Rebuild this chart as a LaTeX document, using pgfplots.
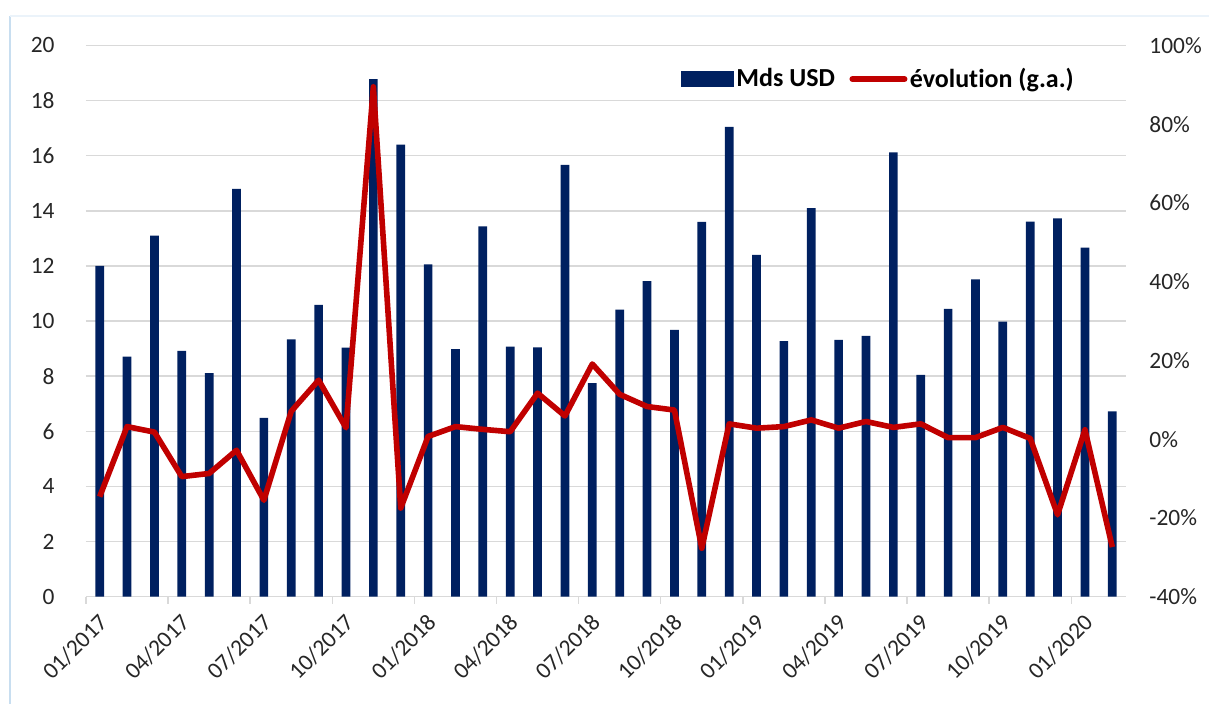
\documentclass[border=0pt]{standalone}
\usepackage{fontspec}
\setmainfont{Carlito}[Ligatures={NoCommon}]
\usepackage{pgfplots}
\pgfplotsset{compat=1.18}
\definecolor{navy}{HTML}{002060}
\definecolor{redl}{HTML}{C00000}
\definecolor{gridgray}{HTML}{D9D9D9}
\definecolor{frameblue}{RGB}{200,222,240}
\definecolor{frametop}{RGB}{235,243,250}
\begin{document}
\begin{tikzpicture}
\useasboundingbox (0,0) rectangle (604.5pt,352pt);
\draw[frameblue, line width=1pt] (5pt,0) -- (5pt,344pt);
\draw[frametop, line width=1pt] (5pt,344pt) -- (604.5pt,344pt);
\begin{axis}[
  at={(43pt,53.65pt)}, anchor=south west, scale only axis,
  width=520pt, height=275.6pt,
  xmin=0, xmax=38, ymin=0, ymax=20,
  ytick={0,2,...,20},
  xtick={0,3,...,36},
  xticklabels={01/2017,04/2017,07/2017,10/2017,01/2018,04/2018,07/2018,10/2018,01/2019,04/2019,07/2019,10/2019,01/2020},
  axis x line*=bottom, axis y line*=left,
  y axis line style={draw=none},
  x axis line style={draw=gridgray, line width=0.75pt},
  ymajorgrids, grid style={draw=gridgray, line width=0.75pt},
  ytick style={draw=none},
  xtick style={draw=gridgray, line width=0.75pt},
  tick align=outside, major tick length=3.5pt,
  /pgf/number format/assume math mode=true,
  tick label style={font=\fontsize{11.7}{14}\selectfont, text=black!85},
  yticklabel style={anchor=east, inner sep=0pt, xshift=-12pt},
  xticklabel style={rotate=45, anchor=east, inner sep=0pt, xshift=1pt, yshift=-11.5pt},
  ybar, bar width=4.35pt, bar shift=0pt,
]
\addplot[fill=navy, draw=none] coordinates {
(0.5,12.0) (1.5,8.71) (2.5,13.1) (3.5,8.92) (4.5,8.11) (5.5,14.8) (6.5,6.49) (7.5,9.34)
(8.5,10.59) (9.5,9.04) (10.5,18.78) (11.5,16.4) (12.5,12.06) (13.5,8.98) (14.5,13.44)
(15.5,9.07) (16.5,9.05) (17.5,15.67) (18.5,7.75) (19.5,10.42) (20.5,11.45) (21.5,9.68)
(22.5,13.6) (23.5,17.05) (24.5,12.4) (25.5,9.27) (26.5,14.1) (27.5,9.32) (28.5,9.46)
(29.5,16.12) (30.5,8.05) (31.5,10.44) (32.5,11.51) (33.5,9.98) (34.5,13.61) (35.5,13.73)
(36.5,12.67) (37.5,6.72)
};
\end{axis}
\begin{axis}[
  at={(43pt,53.65pt)}, anchor=south west, scale only axis,
  width=520pt, height=275.6pt,
  xmin=0, xmax=38, ymin=-40, ymax=100,
  axis x line=none, axis y line*=right,
  y axis line style={draw=none}, ytick style={draw=none},
  ytick={-40,-20,...,100},
  yticklabel={\pgfmathprintnumber{\tick}\%},
  /pgf/number format/assume math mode=true,
  tick label style={font=\fontsize{11.7}{14}\selectfont, text=black!85},
  yticklabel style={anchor=west, inner sep=0pt, xshift=11.5pt},
  legend style={draw=none, fill=none, at={(0.572,0.939)}, anchor=west, inner sep=0pt,
    font=\bfseries\fontsize{13}{15}\selectfont,
    /tikz/every even column/.append style={column sep=6pt},
    nodes={inner sep=1.2pt}},
  legend columns=2, legend cell align=left,
]
\addlegendimage{legend image code/.code={\fill[navy] (0pt,-3.75pt) rectangle (26pt,3.75pt);}}
\addlegendentry{Mds USD}
\addplot[redl, line width=2.8pt, line join=round,
  legend image code/.code={\draw[redl, line width=3pt, line cap=round] (0pt,0pt) -- (26pt,0pt);}]
coordinates {
(0.5,-14.6) (1.5,3.2) (2.5,1.8) (3.5,-9.5) (4.5,-8.7) (5.5,-2.8) (6.5,-15.5) (7.5,7.1)
(8.5,15.0) (9.5,2.9) (10.5,89.5) (11.5,-17.5) (12.5,0.7) (13.5,3.2) (14.5,2.5) (15.5,1.9)
(16.5,11.7) (17.5,5.9) (18.5,19.1) (19.5,11.4) (20.5,8.3) (21.5,7.4) (22.5,-27.7)
(23.5,3.9) (24.5,2.8) (25.5,3.2) (26.5,4.9) (27.5,2.8) (28.5,4.5) (29.5,3.0) (30.5,3.9)
(31.5,0.4) (32.5,0.4) (33.5,3.0) (34.5,0.2) (35.5,-19.2) (36.5,2.4) (37.5,-27.4)
};
\addlegendentry{évolution (g.a.)}
\end{axis}
\end{tikzpicture}
\end{document}
